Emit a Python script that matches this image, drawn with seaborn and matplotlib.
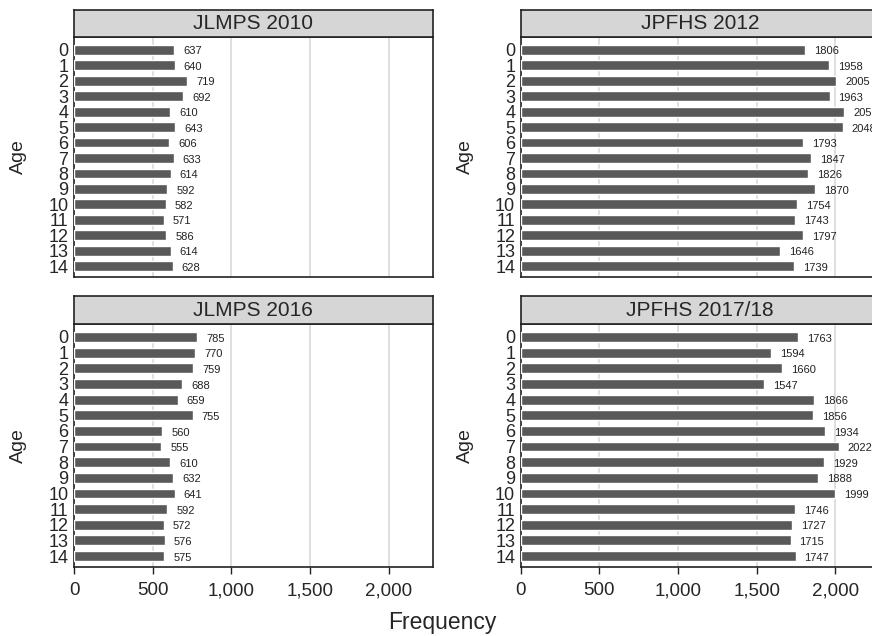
import matplotlib
matplotlib.use('Agg')
import matplotlib.pyplot as plt
import seaborn as sns
import pandas as pd

ages = [str(a) for a in range(15)]
jlmps_2010 = [637, 640, 719, 692, 610, 643, 606, 633, 614, 592, 582, 571, 586, 614, 628]
jpfhs_2012 = [1806, 1958, 2005, 1963, 2057, 2048, 1793, 1847, 1826, 1870, 1754, 1743, 1797, 1646, 1739]
jlmps_2016 = [785, 770, 759, 688, 659, 755, 560, 555, 610, 632, 641, 592, 572, 576, 575]
jpfhs_2017 = [1763, 1594, 1660, 1547, 1866, 1856, 1934, 2022, 1929, 1888, 1999, 1746, 1727, 1715, 1747]

panels = [
    ('JLMPS 2010', jlmps_2010),
    ('JPFHS 2012', jpfhs_2012),
    ('JLMPS 2016', jlmps_2016),
    ('JPFHS 2017/18', jpfhs_2017),
]
xticks = [0, 500, 1000, 1500, 2000]
xticklabels = ['0', '500', '1,000', '1,500', '2,000']

sns.set_style('white')
plt.rcParams['font.family'] = ['Liberation Sans', 'DejaVu Sans']

W, H = 872, 636
fig = plt.figure(figsize=(W / 100, H / 100), dpi=100)

# pixel layout of the panels (axes top, axes bottom, strip top)
lefts = [74, 520.7]
rows = [(37, 277, 9.5), (324, 567, 296)]
panel_w = 358.7

for idx, (title, values) in enumerate(panels):
    r, c = divmod(idx, 2)
    top, bottom, strip_top = rows[r]
    left = lefts[c]
    ax = fig.add_axes([left / W, (H - bottom) / H, panel_w / W, (bottom - top) / H])
    sax = fig.add_axes([left / W, (H - top) / H, panel_w / W, (top - strip_top) / H])

    df = pd.DataFrame({'Age': ages, 'Frequency': values})
    sns.barplot(data=df, x='Frequency', y='Age', order=ages, orient='h',
                color='#595959', width=0.63, saturation=1, ax=ax, zorder=3)
    for i, v in enumerate(values):
        ax.annotate(str(v), xy=(v, i), xytext=(6.5, -1.2), textcoords='offset points',
                    ha='left', va='center', fontsize=8, color='#222222')

    ax.set_xlim(0, 2280)
    ax.set_ylim(14.7, -0.83)
    ax.set_xticks(xticks)
    ax.grid(axis='x', color='#d9d9d9', linewidth=1.2, zorder=0)
    ax.set_axisbelow(True)
    for s in ax.spines.values():
        s.set_color('#222222')
        s.set_linewidth(1.2)
    ax.tick_params(axis='y', length=0, pad=4, labelsize=13)
    if r == 1:
        ax.set_xticklabels(xticklabels)
        ax.tick_params(axis='x', length=5, width=1, color='#222222',
                       direction='out', bottom=True, labelsize=13.5, pad=6)
    else:
        ax.set_xticklabels([])
        ax.tick_params(axis='x', length=0)
    ax.set_xlabel('')
    ax.set_ylabel('Age', fontsize=14)
    ax.yaxis.set_label_coords(-0.13, 0.5)

    sax.set_facecolor('#d6d6d6')
    sax.set_xticks([])
    sax.set_yticks([])
    for s in sax.spines.values():
        s.set_color('#222222')
        s.set_linewidth(1.2)
    sax.text(0.5, 0.48, title, ha='center', va='center', fontsize=15,
             transform=sax.transAxes)

fig.text(442 / W, 1 - 622 / H, 'Frequency', ha='center', va='center', fontsize=16.5)

fig.savefig('out.png', dpi=100)
